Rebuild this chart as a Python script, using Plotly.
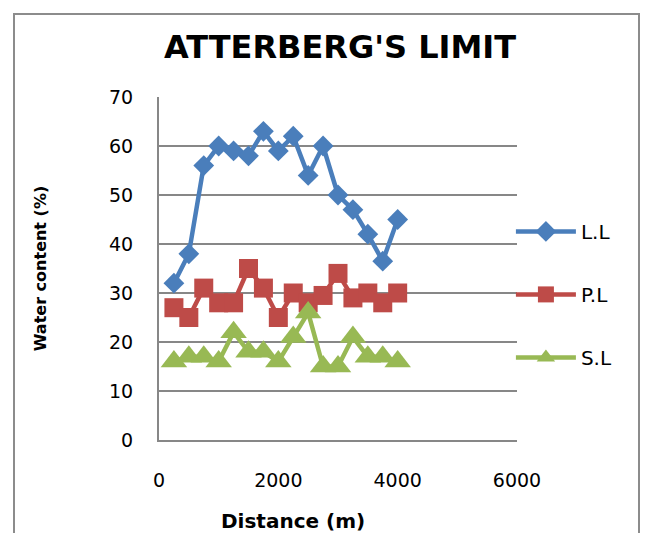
import plotly.graph_objects as go

# Sampling distance along the section (m)
distance = [250, 500, 750, 1000, 1250, 1500, 1750, 2000,
            2250, 2500, 2750, 3000, 3250, 3500, 3750, 4000]

# Atterberg limits, water content (%)
liquid_limit = [32, 38, 56, 60, 59, 58, 63, 59, 62, 54, 60, 50, 47, 42, 36.5, 45]
plastic_limit = [27, 25, 31, 28, 28, 35, 31, 25, 30, 28, 29.5, 34, 29, 30, 28, 30]
shrinkage_limit = [16, 17, 17, 16, 22, 18, 18, 16, 21, 26, 15, 15, 21, 17, 17, 16]

series = [
    ("L.L", liquid_limit, "#4a7ebb", "diamond", 16),
    ("P.L", plastic_limit, "#be4b48", "square", 19),
    ("S.L", shrinkage_limit, "#98b954", "triangle-up", 23),
]

fig = go.Figure()
for i, (name, vals, color, symbol, size) in enumerate(series):
    fig.add_trace(go.Scatter(
        x=distance, y=vals, name=name, mode="lines+markers",
        legendgroup=f"g{i}",
        line=dict(color=color, width=4.5),
        marker=dict(symbol=symbol, size=size, color=color, line=dict(width=0)),
    ))

grid = "#878787"
tick_font = dict(family="DejaVu Sans", size=19, color="#000000")

# plot area spans pixels x 159..517, y 97..440
PX0, PW, PY0, PH = 159, 358, 440, 343

fig.update_layout(
    width=646, height=533,
    margin=dict(l=159, r=129, t=97, b=93),
    paper_bgcolor="white", plot_bgcolor="white",
    showlegend=True,
    title=dict(
        text="<b>ATTERBERG'S LIMIT</b>",
        font=dict(family="DejaVu Sans", size=32, color="#000000"),
        x=340 / 646, xref="container", xanchor="center",
        y=1 - 47 / 533, yref="container", yanchor="middle",
    ),
    xaxis=dict(
        range=[0, 6000], tickvals=[0, 2000, 4000, 6000],
        showgrid=False, zeroline=False,
        showline=True, linecolor=grid, linewidth=2,
        ticks="", tickfont=tick_font, ticklabelstandoff=22,
    ),
    yaxis=dict(
        range=[0, 70], tickvals=list(range(0, 71, 10)),
        showgrid=True, gridcolor=grid, gridwidth=1.5,
        zeroline=False,
        showline=True, linecolor=grid, linewidth=2,
        ticks="", tickfont=tick_font, ticklabelstandoff=20,
        title=dict(text="<b>Water content (%)</b>",
                   font=dict(family="DejaVu Sans", size=16, color="#000000"),
                   standoff=58),
    ),
    annotations=[dict(
        text="<b>Distance (m)</b>",
        font=dict(family="DejaVu Sans", size=20, color="#000000"),
        xref="paper", yref="paper",
        x=(293 - PX0) / PW, y=(PY0 - 521) / PH,
        xanchor="center", yanchor="middle", showarrow=False,
    )],
    legend=dict(
        x=0.983, xanchor="left", y=0.665, yanchor="top",
        font=dict(family="DejaVu Sans", size=20, color="#000000"),
        itemwidth=60, tracegroupgap=34,
        bgcolor="rgba(0,0,0,0)", traceorder="grouped",
    ),
    shapes=[dict(
        type="rect", xref="paper", yref="paper",
        x0=(14 - PX0) / PW, x1=(639 - PX0) / PW,
        y0=-0.35, y1=(PY0 - 14) / PH,
        line=dict(color="#8c8c8c", width=2), fillcolor="rgba(0,0,0,0)",
        layer="below",
    )],
)

fig.write_html("out.html")
